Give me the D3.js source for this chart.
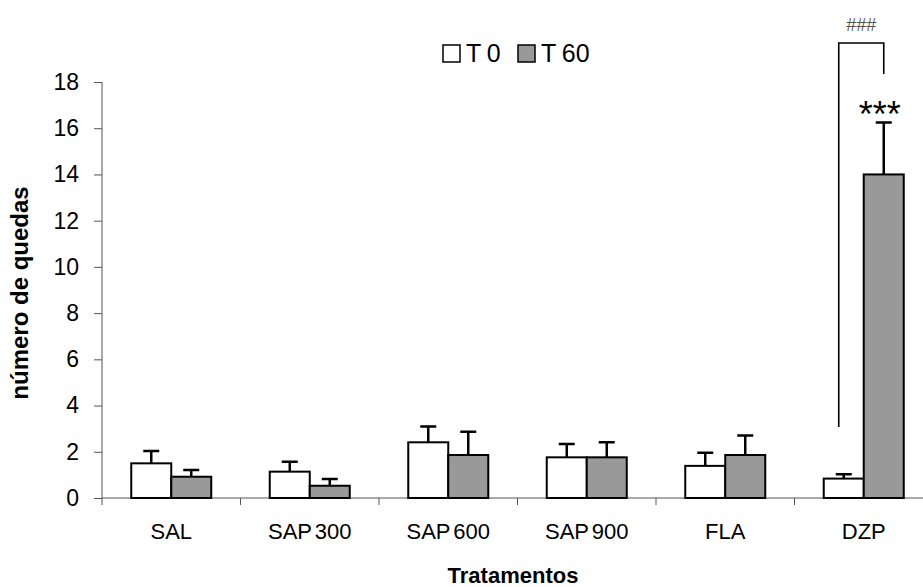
<!DOCTYPE html>
<html>
<head>
<meta charset="utf-8">
<script src="https://cdn.jsdelivr.net/npm/d3@7"></script>
<style>
  body { margin: 0; background: #fff; }
  svg text { font-family: "Liberation Sans", Arial, sans-serif; }
</style>
</head>
<body>
<svg id="chart" width="923" height="587"></svg>
<script>
const categories = ["SAL", "SAP 300", "SAP 600", "SAP 900", "FLA", "DZP"];
const seriesNames = ["T 0", "T 60"];
const t0Values = [1.50, 1.14, 2.41, 1.76, 1.39, 0.84];
const t0Errors = [0.53, 0.43, 0.68, 0.58, 0.57, 0.19];
const t60Values = [0.92, 0.53, 1.86, 1.76, 1.86, 14.0];
const t60Errors = [0.29, 0.29, 1.01, 0.65, 0.84, 2.25];
const yTicks = [0, 2, 4, 6, 8, 10, 12, 14, 16, 18];
const colors = ["#ffffff", "#999999"];

const svg = d3.select("#chart");

const x = d3.scaleBand().domain(categories).range([102, 933]);
const y = d3.scaleLinear().domain([0, 18]).range([498, 82]);
const barW = 40;

const rows = categories.map((c, i) => ({
    cat: c,
    vals: [
        { s: 0, v: t0Values[i], e: t0Errors[i] },
        { s: 1, v: t60Values[i], e: t60Errors[i] }
    ]
}));

// y axis
const yAxis = svg.append("g")
    .attr("transform", "translate(102,0)")
    .call(d3.axisLeft(y).tickValues(yTicks).tickSize(8).tickSizeOuter(0).tickFormat(d3.format("d")));
yAxis.select(".domain").attr("stroke", "#555").attr("d", "M0,82V505");
yAxis.selectAll(".tick line").attr("stroke", "#555");
yAxis.selectAll(".tick text")
    .attr("x", -23)
    .style("font-size", "23px")
    .attr("fill", "#000");

// x axis line + separators
svg.append("line")
    .attr("x1", 102).attr("x2", 933)
    .attr("y1", y(0)).attr("y2", y(0))
    .attr("stroke", "#555");
svg.selectAll(".sep")
    .data(categories.slice(1))
    .enter().append("line")
    .attr("x1", d => x(d)).attr("x2", d => x(d))
    .attr("y1", y(0)).attr("y2", y(0) + 7)
    .attr("stroke", "#555");

svg.selectAll(".xlab")
    .data(categories)
    .enter().append("text")
    .attr("x", d => x(d) + x.bandwidth() / 2)
    .attr("y", 539)
    .attr("text-anchor", "middle")
    .style("font-size", "22px")
    .style("word-spacing", "-3px")
    .text(d => d);

// bars
const groups = svg.selectAll(".grp")
    .data(rows)
    .enter().append("g")
    .attr("transform", d => `translate(${x(d.cat) + x.bandwidth() / 2},0)`);

groups.selectAll(".err")
    .data(d => d.vals)
    .enter().append("path")
    .attr("d", d => {
        const cx = (d.s === 0 ? -barW / 2 : barW / 2);
        return `M${cx},${y(d.v)}V${y(d.v + d.e)}M${cx - 8},${y(d.v + d.e)}H${cx + 8}`;
    })
    .attr("stroke", "#000")
    .attr("stroke-width", 2.5)
    .attr("fill", "none");

groups.selectAll(".bar")
    .data(d => d.vals)
    .enter().append("rect")
    .attr("x", d => (d.s === 0 ? -barW : 0))
    .attr("y", d => y(d.v))
    .attr("width", barW)
    .attr("height", d => y(0) - y(d.v))
    .attr("fill", d => colors[d.s])
    .attr("stroke", "#000")
    .attr("stroke-width", 2);

// significance marks for DZP
const dzpC = x("DZP") + x.bandwidth() / 2;
const bx1 = dzpC - 25, bx2 = dzpC + barW / 2;
svg.append("path")
    .attr("d", `M${bx1},${y(3.07)}V43H${bx2}V74`)
    .attr("stroke", "#000")
    .attr("stroke-width", 1.6)
    .attr("fill", "none");
svg.append("text")
    .attr("x", (bx1 + bx2) / 2)
    .attr("y", 31)
    .attr("text-anchor", "middle")
    .style("font-size", "18px")
    .style("font-weight", "300")
    .attr("fill", "#555")
    .text("###");
svg.append("text")
    .attr("x", bx2 - 4)
    .attr("y", 127)
    .attr("text-anchor", "middle")
    .style("font-size", "36px")
    .text("***");

// legend
const legend = svg.append("g");
const legX = [443, 518];
seriesNames.forEach((n, i) => {
    legend.append("rect")
        .attr("x", legX[i]).attr("y", 45)
        .attr("width", 17).attr("height", 17)
        .attr("fill", colors[i])
        .attr("stroke", "#000")
        .attr("stroke-width", 1.5);
    legend.append("text")
        .attr("x", legX[i] + 23).attr("y", 62)
        .style("font-size", "25px")
        .style("word-spacing", "-1px")
        .text(n);
});

// axis titles
svg.append("text")
    .attr("transform", "translate(28,293) rotate(-90)")
    .attr("text-anchor", "middle")
    .style("font-size", "24px")
    .style("font-weight", "bold")
    .text("número de quedas");
svg.append("text")
    .attr("x", 513).attr("y", 583)
    .attr("text-anchor", "middle")
    .style("font-size", "22px")
    .style("font-weight", "bold")
    .text("Tratamentos");
</script>
</body>
</html>
